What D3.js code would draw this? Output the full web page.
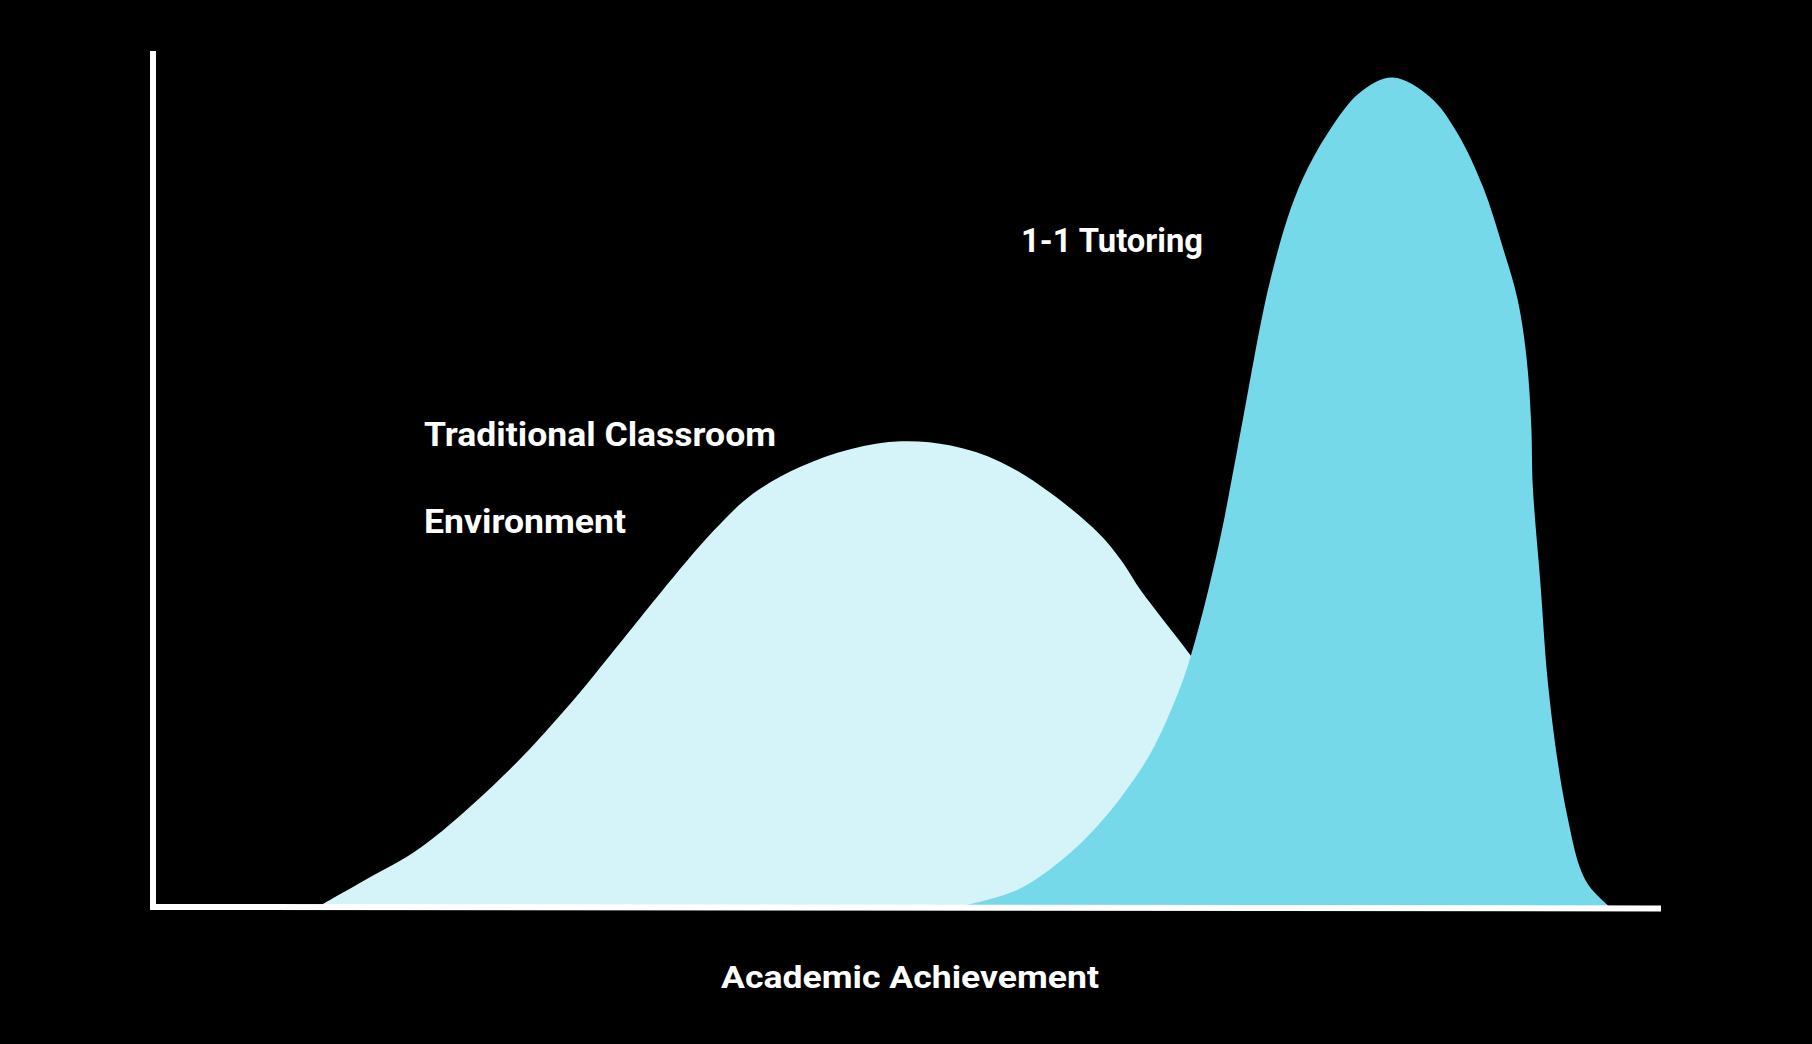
<!DOCTYPE html>
<html>
<head>
<meta charset="utf-8">
<script src="https://cdn.jsdelivr.net/npm/d3@7"></script>
<style>
  html, body { margin: 0; padding: 0; background: #000; }
  svg { display: block; }
  text { font-family: Roboto, "Noto Sans", sans-serif; font-weight: 700; fill: #fff; }
</style>
</head>
<body>
<svg id="chart" width="1812" height="1044"></svg>
<script>
// Academic achievement (x, 0-100) vs. share of students (y, 0-100)
const traditionalX = [10.9, 13.8, 17.8, 23.5, 27.7, 31.5, 33.7, 37.2, 39.8, 42.9, 46.3, 49.6, 52.9, 56.2, 59.5, 62.8, 64.2, 65.5, 68.8, 72.8, 77.4, 82.7, 88.0];
const traditionalY = [0, 2.9, 7.0, 15.8, 23.8, 32.0, 36.8, 44.0, 48.3, 51.4, 53.5, 54.4, 53.9, 52.0, 48.4, 43.5, 40.5, 37.0, 29.4, 19.5, 10.2, 3.2, 0];

const tutoringX = [53.3, 57.3, 60.2, 62.8, 65.9, 67.7, 68.8, 70.6, 71.9, 73.6, 74.3, 75.2, 76.3, 77.9, 80.0, 82.2, 84.7, 86.5, 88.2, 89.5, 90.5, 91.1, 91.4, 91.5, 92.0, 92.5, 93.2, 93.8, 94.6, 95.3, 96.6];
const tutoringY = [0, 2.0, 5.4, 9.8, 17.2, 23.8, 29.2, 41.7, 53.4, 69.4, 74.7, 80.3, 85.3, 90.4, 95.1, 96.9, 94.6, 90.4, 84.1, 77.1, 70.9, 63.9, 56.1, 49.1, 37.9, 26.2, 16.4, 10.5, 4.7, 2.3, 0];

const seriesLabels = ["Traditional Classroom", "Environment", "1-1 Tutoring"];
const xAxisLabel = "Academic Achievement";

const svg = d3.select("#chart");
const W = 1812, H = 1044;
svg.append("rect").attr("width", W).attr("height", H).attr("fill", "#000");

const x = d3.scaleLinear().domain([0, 100]).range([153, 1661]);
const y = d3.scaleLinear().domain([0, 100]).range([907, 51]);

const area = d3.area()
  .x(d => x(d[0]))
  .y0(y(0))
  .y1(d => y(d[1]))
  .curve(d3.curveCatmullRom.alpha(0.5));

const trad = traditionalX.map((v, i) => [v, traditionalY[i]]);
const tut = tutoringX.map((v, i) => [v, tutoringY[i]]);

svg.append("path").datum(trad).attr("d", area).attr("fill", "#d4f4fa");
svg.append("path").datum(tut).attr("d", area).attr("fill", "#75d9ea");

// Axes (plain lines, no ticks)
svg.append("line")
  .attr("x1", x(0)).attr("x2", x(0))
  .attr("y1", y(100)).attr("y2", y(0) + 3)
  .attr("stroke", "#fff").attr("stroke-width", 6);
svg.append("line")
  .attr("x1", x(0) - 3).attr("x2", x(100))
  .attr("y1", y(0)).attr("y2", y(0) + 1.5)
  .attr("stroke", "#fff").attr("stroke-width", 6);

// Labels
const labels = [
  { t: seriesLabels[0], x: 424, y: 446, w: 352, s: 33 },
  { t: seriesLabels[1], x: 424, y: 533, w: 202, s: 33 },
  { t: seriesLabels[2], x: 1021, y: 252, w: 182, s: 33 },
  { t: xAxisLabel, x: 721, y: 988, w: 378, s: 32 }
];
labels.forEach(l => {
  svg.append("text")
    .attr("x", l.x).attr("y", l.y)
    .attr("font-size", l.s)
    .attr("textLength", l.w)
    .attr("lengthAdjust", "spacingAndGlyphs")
    .text(l.t);
});
</script>
</body>
</html>
